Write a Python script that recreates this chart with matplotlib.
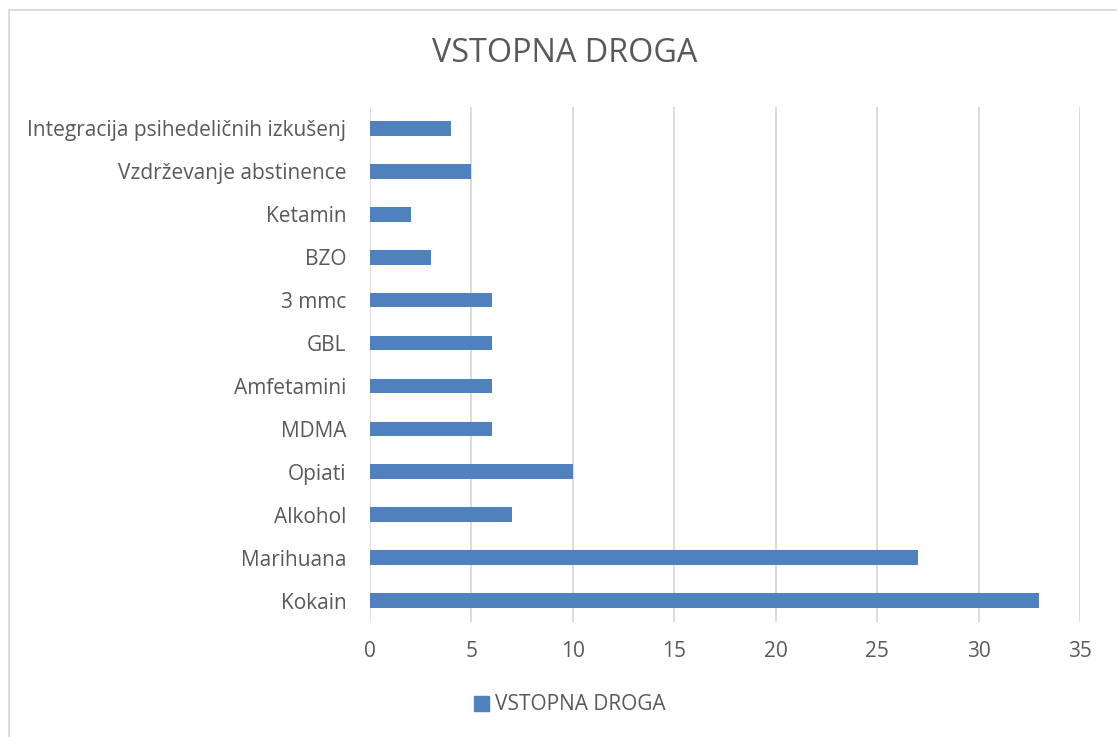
import matplotlib
matplotlib.use("Agg")
import matplotlib.pyplot as plt
import matplotlib.patches as mpatches

# ── data ─────────────────────────────────────────────
categories = [
    "Kokain", "Marihuana", "Alkohol", "Opiati", "MDMA", "Amfetamini",
    "GBL", "3 mmc", "BZO", "Ketamin", "Vzdrževanje abstinence",
    "Integracija psihedeličnih izkušenj",
]
values = [33, 27, 7, 10, 6, 6, 6, 6, 3, 2, 5, 4]
x_ticks = [0, 5, 10, 15, 20, 25, 30, 35]
series_name = "VSTOPNA DROGA"

BAR_COLOR = "#4F81BD"
TEXT_COLOR = "#595959"
GRID_COLOR = "#D9D9D9"

plt.rcParams["font.family"] = ["Open Sans", "DejaVu Sans"]

W, H = 1117, 737
fig = plt.figure(figsize=(W / 100, H / 100), dpi=100)
ax = fig.add_axes([370 / W, 1 - 622 / H, 710 / W, 515 / H])

ypos = list(range(len(categories)))
ax.barh(ypos, values, height=0.34, color=BAR_COLOR, zorder=3)

ax.set_xlim(0, 35)
ax.set_ylim(-0.5, len(categories) - 0.5)
ax.set_xticks(x_ticks)
ax.set_yticks(ypos)
ax.set_yticklabels(categories)
ax.xaxis.grid(True, color=GRID_COLOR, linewidth=1.3, zorder=0)
ax.tick_params(axis="both", length=0, labelsize=15, colors=TEXT_COLOR)
ax.tick_params(axis="y", pad=17)
ax.tick_params(axis="x", pad=14)
for s in ax.spines.values():
    s.set_visible(False)

# title
fig.text(565 / W, 1 - 53 / H, series_name, ha="center", va="center",
         fontsize=23.3, color=TEXT_COLOR)

# legend
legend_patch = mpatches.Patch(color=BAR_COLOR, label=series_name)
fig.legend(handles=[legend_patch], loc="center", bbox_to_anchor=(570 / W, 1 - 705 / H),
           frameon=False, fontsize=15, labelcolor=TEXT_COLOR,
           handlelength=0.7, handleheight=0.7, handletextpad=0.3)

# chart border (only left and top edges visible in the frame)
border = mpatches.Rectangle((9 / W, -0.1), 1.2, 1 - 10 / H + 0.1,
                            transform=fig.transFigure, fill=False,
                            edgecolor=GRID_COLOR, linewidth=1.3)
fig.patches.append(border)

fig.savefig("out.png", dpi=100)
